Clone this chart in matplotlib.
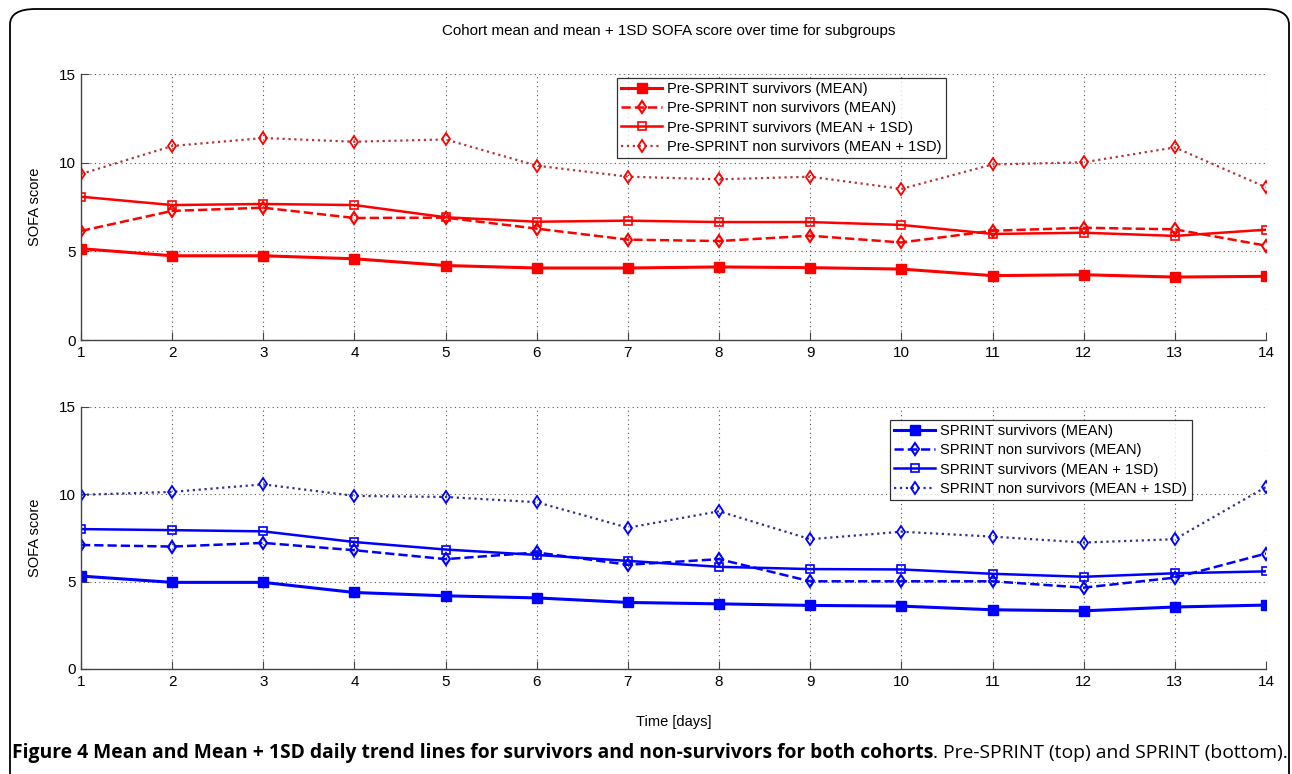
import matplotlib
matplotlib.use("Agg")
import matplotlib.pyplot as plt
from matplotlib.patches import FancyBboxPatch
import numpy as np

plt.rcParams['font.family'] = ['Liberation Sans', 'DejaVu Sans']

days = list(range(1, 15))

pre_surv_mean = [5.15, 4.75, 4.75, 4.58, 4.2, 4.06, 4.06, 4.12, 4.08, 4.0, 3.63, 3.68, 3.55, 3.59]
pre_nonsurv_mean = [6.15, 7.28, 7.46, 6.88, 6.9, 6.28, 5.66, 5.58, 5.88, 5.5, 6.16, 6.33, 6.24, 5.32]
pre_surv_sd = [8.08, 7.61, 7.67, 7.61, 6.92, 6.67, 6.73, 6.65, 6.65, 6.49, 5.98, 6.05, 5.87, 6.22]
pre_nonsurv_sd = [9.36, 10.94, 11.39, 11.18, 11.31, 9.83, 9.21, 9.06, 9.21, 8.52, 9.9, 10.02, 10.86, 8.61]

sp_surv_mean = [5.32, 4.96, 4.96, 4.38, 4.19, 4.07, 3.81, 3.73, 3.64, 3.6, 3.39, 3.33, 3.55, 3.66]
sp_nonsurv_mean = [7.1, 7.01, 7.22, 6.8, 6.29, 6.67, 5.97, 6.29, 5.02, 5.02, 5.02, 4.66, 5.23, 6.61]
sp_surv_sd = [8.01, 7.95, 7.88, 7.27, 6.84, 6.53, 6.19, 5.85, 5.72, 5.7, 5.45, 5.28, 5.48, 5.59]
sp_nonsurv_sd = [9.97, 10.14, 10.57, 9.91, 9.85, 9.55, 8.09, 9.03, 7.43, 7.86, 7.58, 7.24, 7.43, 10.42]

pre_labels = ["Pre-SPRINT survivors (MEAN)", "Pre-SPRINT non survivors (MEAN)",
              "Pre-SPRINT survivors (MEAN + 1SD)", "Pre-SPRINT non survivors (MEAN + 1SD)"]
sp_labels = ["SPRINT survivors (MEAN)", "SPRINT non survivors (MEAN)",
             "SPRINT survivors (MEAN + 1SD)", "SPRINT non survivors (MEAN + 1SD)"]

title = "Cohort mean and mean + 1SD SOFA score over time for subgroups"
caption_bold = "Figure 4 Mean and Mean + 1SD daily trend lines for survivors and non-survivors for both cohorts"
caption_reg = ". Pre-SPRINT (top) and SPRINT (bottom)."

W, H = 1292, 774
fig = plt.figure(figsize=(W / 100, H / 100), dpi=100)

# outer rounded border
border = FancyBboxPatch((10 / W, -0.05), (1279 / W), 1 - 9 / H + 0.05,
                        boxstyle="round,pad=0,rounding_size=0.02",
                        transform=fig.transFigure, fill=False, lw=1.3,
                        edgecolor='black', clip_on=False)
fig.patches.append(border)


def make_axes(rect, series, labels, color, dotcolor, legend_loc):
    ax = fig.add_axes(rect)
    s_mean, ns_mean, s_sd, ns_sd = series
    ax.plot(days, s_mean, '-', color=color, lw=2.2, marker='s', ms=7,
            mfc=color, mec=color, label=labels[0])
    ax.plot(days, ns_mean, '--', color=color, lw=1.8, marker='d', ms=6,
            mfc='none', mec=color, mew=1.5, label=labels[1])
    ax.plot(days, s_sd, '-', color=color, lw=1.8, marker='s', ms=6,
            mfc='none', mec=color, mew=1.2, label=labels[2])
    ax.plot(days, ns_sd, ':', color=dotcolor, lw=1.6, marker='d', ms=6,
            mfc='none', mec=color, mew=1.3, label=labels[3])
    ax.set_xlim(1, 14)
    ax.set_ylim(0, 15)
    ax.set_xticks(days)
    ax.set_yticks([0, 5, 10, 15])
    ax.grid(True, linestyle=(0, (1, 3)), color='#555555', lw=0.8)
    for sp in ['top', 'right']:
        ax.spines[sp].set_visible(False)
    for sp in ['left', 'bottom']:
        ax.spines[sp].set_color('#444444')
        ax.spines[sp].set_linewidth(1.0)
    ax.tick_params(direction='in', length=6, color='#444444', labelsize=11, pad=4)
    ax.set_ylabel("SOFA score", fontsize=10.5, labelpad=12)
    leg = ax.legend(loc='upper left', bbox_to_anchor=legend_loc, fontsize=10.5,
                    frameon=True, fancybox=False, edgecolor='black',
                    handlelength=2.8, handletextpad=0.35, borderpad=0.3,
                    labelspacing=0.35, borderaxespad=0)
    leg.get_frame().set_linewidth(0.9)
    return ax


ax1 = make_axes([81 / W, 1 - 340 / H, (1266 - 81) / W, (340 - 74) / H],
                (pre_surv_mean, pre_nonsurv_mean, pre_surv_sd, pre_nonsurv_sd),
                pre_labels, '#ff0000', '#b03838', ((617 - 81) / (1266 - 81), 1 - (78 - 74) / 266))
ax2 = make_axes([81 / W, 1 - 669 / H, (1266 - 81) / W, (669 - 407) / H],
                (sp_surv_mean, sp_nonsurv_mean, sp_surv_sd, sp_nonsurv_sd),
                sp_labels, '#0000ff', '#303090', ((890 - 81) / (1266 - 81), 1 - (420 - 407) / 262))

ax2.set_xlabel("Time [days]", fontsize=10.5, labelpad=19)

fig.text(669 / W, 1 - 31 / H, title, ha='center', va='center', fontsize=10.9)

# caption
cap_fs = 13.9
t1 = fig.text(12 / W, 1 - 753 / H, caption_bold, ha='left', va='center',
              fontsize=cap_fs, fontweight='bold', family=['Open Sans', 'DejaVu Sans'])
fig.canvas.draw()
r = fig.canvas.get_renderer()
bb = t1.get_window_extent(r)
t2 = fig.text(bb.x1 / W, 1 - 753 / H, caption_reg, ha='left', va='center',
              fontsize=cap_fs, family=['Open Sans', 'DejaVu Sans'])

fig.savefig("out.png", dpi=100)
